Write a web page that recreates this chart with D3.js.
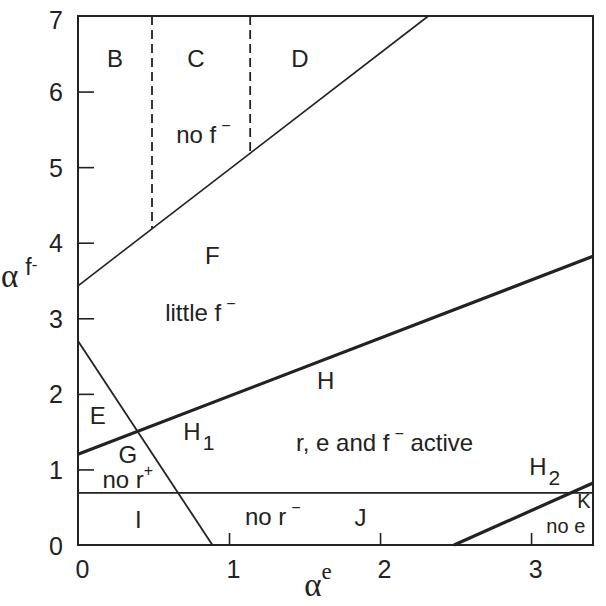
<!DOCTYPE html>
<html><head><meta charset="utf-8">
<script src="https://cdn.jsdelivr.net/npm/d3@7"></script>
<style>body{margin:0;background:#fff}text{font-family:"Liberation Sans",Arial,sans-serif;fill:#222}</style>
</head><body><svg id="c" width="606" height="606"></svg>
<script>
// ---- data ----
const xDomain = [0, 3.41];
const yDomain = [0, 7];
const xTicks = [0, 1, 2, 3];
const yTicks = [0, 1, 2, 3, 4, 5, 6, 7];
// boundary lines (alpha_e, alpha_f-)
const upperBoundary = [[0, 3.43], [2.32, 7]];
const dashedBC = [[0.49, 7], [0.49, 4.18]];
const dashedCD = [[1.14, 7], [1.14, 5.18]];
const midBoundary = [[0, 1.2], [3.41, 3.82]];
const steepBoundary = [[0, 2.7], [0.89, 0]];
const lowBoundary = [[0, 0.69], [3.41, 0.69]];
const cornerBoundary = [[2.49, 0], [3.41, 0.82]];
// region labels
const labelText = ["B", "C", "D", "no f", "F", "little f", "H", "E", "H", "G", "r, e and f", "no r", "H", "I", "no r", "J", "K", "no e"];
const labelSup  = ["", "", "", "−", "", "−", "", "", "", "", "−", "+", "", "", "−", "", "", ""];
const labelTail = ["", "", "", "", "", "", "", "", "", "", " active", "", "", "", "", "", "", ""];
const labelSub  = ["", "", "", "", "", "", "", "", "1", "", "", "", "2", "", "", "", "", ""];
const labelX = [0.245, 0.78, 1.47, 0.83, 0.89, 0.81, 1.64, 0.13, 0.8, 0.33, 2.03, 0.33, 3.09, 0.4, 1.29, 1.87, 3.35, 3.23];
const labelY = [6.4, 6.4, 6.4, 5.4, 3.8, 3.05, 2.14, 1.68, 1.47, 1.16, 1.32, 0.83, 1.0, 0.3, 0.35, 0.33, 0.55, 0.22];
const labelSize = [24, 24, 24, 24, 24, 24, 24, 24, 24, 24, 24, 24, 24, 24, 24, 24, 20, 20];

// ---- layout ----
const svg = d3.select("#c");
const L = 78, R = 593, T = 16, B = 545;
const x = d3.scaleLinear().domain(xDomain).range([L, R]);
const y = d3.scaleLinear().domain(yDomain).range([B, T]);

// axes with inward ticks
const xa = svg.append("g").attr("transform", `translate(0,${B})`)
  .call(d3.axisBottom(x).tickValues(xTicks).tickSize(-12).tickPadding(15).tickFormat(d3.format("d")));
const ya = svg.append("g").attr("transform", `translate(${L},0)`)
  .call(d3.axisLeft(y).tickValues(yTicks).tickSize(-16).tickPadding(15).tickFormat(d3.format("d")));
[xa, ya].forEach(a => {
  a.select(".domain").remove();
  a.selectAll(".tick line").attr("stroke", "#222").attr("stroke-width", 1.6);
  a.selectAll(".tick text").attr("font-size", 25).attr("fill", "#222")
    .style("font-family", '"Liberation Sans",Arial,sans-serif');
});
xa.selectAll(".tick text").attr("dx", 4);
xa.selectAll(".tick").filter(d => d === 0).select("line").remove();
ya.selectAll(".tick").filter(d => d === 0 || d === 7).select("line").remove();
ya.selectAll(".tick text").attr("dy", "0.36em");
ya.selectAll(".tick").filter(d => d === 7).select("text").attr("dy", "0.5em");

// frame
svg.append("rect").attr("x", L).attr("y", T).attr("width", R - L).attr("height", B - T)
  .attr("fill", "none").attr("stroke", "#222").attr("stroke-width", 2);

const line = d3.line().x(d => x(d[0])).y(d => y(d[1]));
function draw(pts, w, dash) {
  svg.append("path").attr("d", line(pts)).attr("fill", "none").attr("stroke", "#222")
    .attr("stroke-width", w).attr("stroke-dasharray", dash || null);
}
draw(upperBoundary, 1.6);
draw(dashedBC, 1.8, "9,5");
draw(dashedCD, 1.8, "9,5");
draw(midBoundary, 3.2);
draw(steepBoundary, 1.8);
draw(lowBoundary, 1.6);
draw(cornerBoundary, 3.2);

// region labels
labelText.forEach((t, i) => {
  const tx = svg.append("text").attr("x", x(labelX[i])).attr("y", y(labelY[i]))
    .attr("text-anchor", "middle").attr("dominant-baseline", "middle").attr("font-size", labelSize[i]);
  tx.append("tspan").text(t);
  if (labelSup[i]) {
    tx.append("tspan").attr("dx", labelSup[i] === "+" ? 0 : 5).attr("dy", -10).attr("font-size", 16).text(labelSup[i]);
    if (labelTail[i]) tx.append("tspan").attr("dy", 10).text(labelTail[i]);
  }
  if (labelSub[i]) tx.append("tspan").attr("dx", 2).attr("dy", 10).attr("font-size", 21).text(labelSub[i]);
});

// axis titles
const serif = '"Liberation Serif","Times New Roman",serif';
const xt = svg.append("text").attr("x", 318).attr("y", 596).attr("text-anchor", "middle");
xt.append("tspan").attr("font-size", 33).style("font-family", serif).text("α");
xt.append("tspan").attr("font-size", 23).attr("dy", -17).style("font-family", serif).text("e");
const yt = svg.append("text").attr("x", 1).attr("y", 287);
yt.append("tspan").attr("font-size", 33).style("font-family", serif).text("α");
yt.append("tspan").attr("dx", 7).attr("dy", -12).attr("font-size", 23).text("f");
yt.append("tspan").attr("dy", -5).attr("font-size", 17).text("-");
</script></body></html>
